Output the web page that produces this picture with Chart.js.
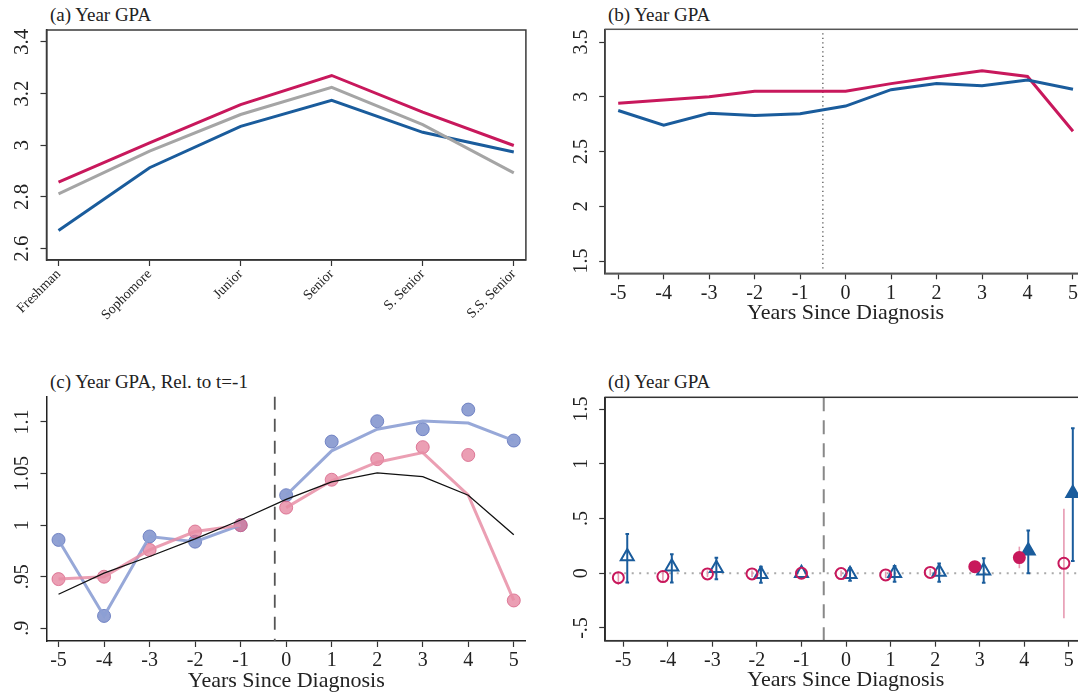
<!DOCTYPE html>
<html>
<head>
<meta charset="utf-8">
<script src="https://cdn.jsdelivr.net/npm/chart.js@4.4.1/dist/chart.umd.min.js"></script>
<style>
html, body { margin:0; padding:0; background:#fff; overflow:hidden; width:1078px; height:695px; }
canvas { position:absolute; }
.ttl { position:absolute; font-family:"Liberation Serif", serif; font-size:19px; line-height:19px; color:#222; white-space:nowrap; }
</style>
</head>
<body>
<div class="ttl" style="left:50px;top:5px">(a) Year GPA</div>
<div class="ttl" style="left:608px;top:5px">(b) Year GPA</div>
<div class="ttl" style="left:50px;top:372px">(c) Year GPA, Rel. to t=-1</div>
<div class="ttl" style="left:608px;top:372px">(d) Year GPA</div>
<canvas id="ca" width="540" height="340" style="left:0;top:0"></canvas>
<canvas id="cb" width="560" height="340" style="left:540px;top:0"></canvas>
<canvas id="cc" width="540" height="355" style="left:0;top:340px"></canvas>
<canvas id="cd" width="560" height="355" style="left:540px;top:340px"></canvas>
<script>
// ---- data ----
var classYears = ['Freshman', 'Sophomore', 'Junior', 'Senior', 'S. Senior', 'S.S. Senior'];
var aRed  = [2.857, 3.009, 3.157, 3.270, 3.128, 2.999];
var aGray = [2.812, 2.977, 3.119, 3.224, 3.080, 2.893];
var aBlue = [2.670, 2.913, 3.073, 3.174, 3.050, 2.974];
var aYTicks = [2.6, 2.8, 3, 3.2, 3.4];
var aYLabels = ['2.6', '2.8', '3', '3.2', '3.4'];

var years = [-5, -4, -3, -2, -1, 0, 1, 2, 3, 4, 5];
var xAxisTitle = 'Years Since Diagnosis';

var bRed  = [2.94, 2.97, 3.00, 3.05, 3.05, 3.05, 3.12, 3.18, 3.237, 3.185, 2.685];
var bBlue = [2.875, 2.74, 2.85, 2.83, 2.845, 2.915, 3.065, 3.12, 3.10, 3.152, 3.068];
var bYTicks = [1.5, 2, 2.5, 3, 3.5];
var bYLabels = ['1.5', '2', '2.5', '3', '3.5'];
var bEventLine = -0.5;

var cBlueDots = [0.9857, 0.912, 0.989, 0.984, 1.0, 1.029, 1.081, 1.1007, 1.093, 1.112, 1.082];
var cBlueFit  = [0.9857, 0.912, 0.989, 0.984, 1.0, 1.029, 1.072, 1.093, 1.101, 1.099, 1.082];
var cRedDots  = [0.9477, 0.950, 0.976, 0.9938, 1.0, 1.017, 1.044, 1.064, 1.0756, 1.068, 0.927];
var cRedFit   = [0.9477, 0.950, 0.976, 0.9938, 1.0, 1.017, 1.043, 1.061, 1.0703, 1.029, 0.927];
var cBlack    = [0.933, 0.9535, 0.9696, 0.9867, 1.005, 1.025, 1.042, 1.0507, 1.047, 1.029, 0.9906];
var cYTicks = [0.9, 0.95, 1, 1.05, 1.1];
var cYLabels = ['.9', '.95', '1', '1.05', '1.1'];
var cEventLine = -0.25;

var dRedX   = [-5.11, -4.11, -3.11, -2.11, -1, -0.11, 0.89, 1.89, 2.89, 3.89, 4.89];
var dRed    = [-0.04, -0.03, -0.006, -0.006, 0, -0.003, -0.015, 0.008, 0.06, 0.143, 0.091];
var dRedLo  = [-0.107, -0.08, -0.035, -0.035, null, -0.03, -0.045, -0.02, 0.005, 0.046, -0.41];
var dRedHi  = [0.016, 0.02, 0.025, 0.025, null, 0.025, 0.015, 0.04, 0.11, 0.243, 0.59];
var dRedSig = [0, 0, 0, 0, 0, 0, 0, 0, 1, 1, 0];
var dBlueX  = [-4.91, -3.91, -2.91, -1.91, -1, 0.09, 1.09, 2.09, 3.09, 4.09, 5.09];
var dBlue   = [0.152, 0.06, 0.046, -0.01, 0, -0.01, 0.0, 0.012, 0.024, 0.206, 0.73];
var dBlueLo = [-0.085, -0.085, -0.055, -0.086, null, -0.068, -0.077, -0.077, -0.086, 0.0, 0.112];
var dBlueHi = [0.359, 0.173, 0.142, 0.06, null, 0.045, 0.067, 0.09, 0.137, 0.39, 1.324];
var dBlueSig = [0, 0, 0, 0, 0, 0, 0, 0, 0, 1, 1];
var dYTicks = [-0.5, 0, 0.5, 1, 1.5];
var dYLabels = ['-.5', '0', '.5', '1', '1.5'];
var dEventLine = -0.5;
var dZeroLine = 0;

// ---- style ----
var FONT = '"Liberation Serif", "Times New Roman", serif';
var INK = '#222';
var RED = '#c8185c', BLUE = '#1a5c9c', GRAY = '#a5a5a5';
var cBlueLine = 'rgba(140,158,212,0.9)', cBlueDot = 'rgba(118,138,200,0.8)';
var cRedLine = 'rgba(232,142,166,0.85)', cRedDot = 'rgba(226,118,148,0.7)';
Chart.defaults.font.family = FONT;
Chart.defaults.color = INK;

function pts(xs, ys) {
    return xs.map(function (x, i) { return { x: x, y: ys[i] }; });
}

// rotated (reading upward) y tick labels, like the original
var rotYLabels = {
    id: 'rotYLabels',
    afterDraw: function (chart, args, o) {
        var s = chart.scales.y, ctx = chart.ctx;
        ctx.save();
        ctx.font = o.size + 'px ' + FONT;
        ctx.fillStyle = INK;
        ctx.textAlign = 'center';
        ctx.textBaseline = 'alphabetic';
        o.values.forEach(function (v, i) {
            ctx.save();
            ctx.translate(chart.chartArea.left - o.gap, s.getPixelForValue(v));
            ctx.rotate(-Math.PI / 2);
            ctx.fillText(o.labels[i], 0, 0);
            ctx.restore();
        });
        ctx.restore();
    }
};

var frame = {
    id: 'frame',
    afterDraw: function (chart, args, o) {
        if (!o.on) return;
        var a = chart.chartArea, ctx = chart.ctx;
        ctx.save();
        ctx.strokeStyle = o.color;
        ctx.lineWidth = o.width;
        ctx.strokeRect(a.left, a.top, a.right - a.left, a.bottom - a.top);
        ctx.restore();
    }
};

var refLines = {
    id: 'refLines',
    beforeDatasetsDraw: function (chart, args, o) {
        var a = chart.chartArea, ctx = chart.ctx;
        ctx.save();
        if (o.vx !== undefined) {
            var px = chart.scales.x.getPixelForValue(o.vx);
            ctx.strokeStyle = o.vcolor; ctx.lineWidth = o.vwidth; ctx.setLineDash(o.vdash);
            ctx.beginPath(); ctx.moveTo(px, a.top + o.inset); ctx.lineTo(px, a.bottom - o.inset); ctx.stroke();
        }
        if (o.hy !== undefined) {
            var py = chart.scales.y.getPixelForValue(o.hy);
            ctx.strokeStyle = o.hcolor; ctx.lineWidth = o.hwidth; ctx.setLineDash(o.hdash);
            ctx.beginPath(); ctx.moveTo(a.left + 4, py); ctx.lineTo(a.right, py); ctx.stroke();
        }
        ctx.restore();
    }
};

var ciBars = {
    id: 'ciBars',
    beforeDatasetsDraw: function (chart, args, o) {
        var xs = chart.scales.x, ys = chart.scales.y, ctx = chart.ctx;
        ctx.save();
        o.sets.forEach(function (st) {
            ctx.strokeStyle = st.color; ctx.lineWidth = st.width;
            st.x.forEach(function (x, i) {
                if (st.lo[i] === null) return;
                var px = xs.getPixelForValue(x), p1 = ys.getPixelForValue(st.lo[i]), p2 = ys.getPixelForValue(st.hi[i]);
                ctx.beginPath(); ctx.moveTo(px, p1); ctx.lineTo(px, p2);
                if (st.cap) {
                    ctx.moveTo(px - st.cap, p1); ctx.lineTo(px + st.cap, p1);
                    ctx.moveTo(px - st.cap, p2); ctx.lineTo(px + st.cap, p2);
                }
                ctx.stroke();
            });
        });
        ctx.restore();
    }
};

function yAxis(min, max, ticks, w) {
    return {
        type: 'linear', min: min, max: max, bounds: 'data',
        afterBuildTicks: function (s) { s.ticks = ticks.map(function (v) { return { value: v }; }); },
        ticks: { display: false },
        grid: { drawOnChartArea: false, tickLength: 6, tickColor: '#333', tickWidth: 1.2 },
        border: { color: INK, width: 1.5 },
        afterFit: function (s) { s.width = w; }
    };
}

function yearAxis(min, max, h, padBottom) {
    return {
        type: 'linear', min: min, max: max, bounds: 'data',
        afterBuildTicks: function (s) { s.ticks = years.map(function (v) { return { value: v }; }); },
        ticks: { font: { size: 20 }, color: INK, padding: 2, maxRotation: 0, callback: function (v) { return String(v); } },
        grid: { drawOnChartArea: false, tickLength: 6, tickColor: '#333', tickWidth: 1.2 },
        border: { color: INK, width: 1.5 },
        title: { display: true, text: xAxisTitle, font: { size: 22 }, color: INK, padding: { top: 0, bottom: padBottom } },
        afterFit: function (s) { s.height = h; }
    };
}

var base = {
    animation: false, responsive: false, events: [],
    elements: { line: { tension: 0 }, point: { radius: 0 } }
};

function opts(extra) {
    return Object.assign({}, base, extra);
}

// ---- (a) ----
new Chart(document.getElementById('ca'), {
    type: 'line',
    data: { datasets: [
        { data: pts([0, 1, 2, 3, 4, 5], aGray), borderColor: GRAY, borderWidth: 3 },
        { data: pts([0, 1, 2, 3, 4, 5], aBlue), borderColor: BLUE, borderWidth: 3 },
        { data: pts([0, 1, 2, 3, 4, 5], aRed), borderColor: RED, borderWidth: 3 }
    ] },
    options: opts({
        layout: { padding: { left: 0, top: 30, right: 14.1, bottom: 0 } },
        plugins: {
            legend: { display: false }, tooltip: { enabled: false },
            rotYLabels: { values: aYTicks, labels: aYLabels, size: 21, gap: 19 },
            frame: { on: true, color: '#3a3a3a', width: 1.5 }
        },
        scales: {
            x: {
                type: 'linear', min: -0.132, max: 5.133, bounds: 'data',
                afterBuildTicks: function (s) { s.ticks = classYears.map(function (c, i) { return { value: i }; }); },
                ticks: { font: { size: 14 }, color: INK, padding: 0, minRotation: 45, maxRotation: 45,
                    callback: function (v) { return classYears[v]; } },
                grid: { drawOnChartArea: false, tickLength: 6, tickColor: '#333', tickWidth: 1.2 },
                border: { color: INK, width: 1.5 },
                afterFit: function (s) { s.height = 80; }
            },
            y: yAxis(2.556, 3.446, aYTicks, 46.5)
        }
    }),
    plugins: [rotYLabels, frame]
});

// ---- (b) ----
new Chart(document.getElementById('cb'), {
    type: 'line',
    data: { datasets: [
        { data: pts(years, bBlue), borderColor: BLUE, borderWidth: 3 },
        { data: pts(years, bRed), borderColor: RED, borderWidth: 3 }
    ] },
    options: opts({
        layout: { padding: { left: 0, top: 29.3, right: 14, bottom: 0 } },
        plugins: {
            legend: { display: false }, tooltip: { enabled: false },
            rotYLabels: { values: bYTicks, labels: bYLabels, size: 20, gap: 18 },
            frame: { on: true, color: '#555', width: 1.5 },
            refLines: { vx: bEventLine, vcolor: '#555', vwidth: 1.3, vdash: [1.3, 3.2], inset: 4 }
        },
        scales: {
            x: yearAxis(-5.286, 5.286, 66.7, 13.5),
            y: yAxis(1.388, 3.616, bYTicks, 65.2)
        }
    }),
    plugins: [rotYLabels, frame, refLines]
});

// ---- (c) ----
function breakAtEvent(ctx) {
    return ctx.p0.parsed.x < cEventLine && ctx.p1.parsed.x > cEventLine ? 'rgba(0,0,0,0)' : undefined;
}
new Chart(document.getElementById('cc'), {
    type: 'line',
    data: { datasets: [
        { data: pts(years, cBlack), borderColor: '#111', borderWidth: 1.3, order: 1 },
        { data: pts(years, cRedFit), borderColor: cRedLine, borderWidth: 3, segment: { borderColor: breakAtEvent }, order: 2 },
        { data: pts(years, cBlueFit), borderColor: cBlueLine, borderWidth: 3, segment: { borderColor: breakAtEvent }, order: 3 },
        { data: pts(years, cRedDots), showLine: false, pointRadius: 6.5, pointBackgroundColor: cRedDot, pointBorderColor: 'rgba(215,100,135,0.8)', pointBorderWidth: 1, order: 4 },
        { data: pts(years, cBlueDots), showLine: false, pointRadius: 6.5, pointBackgroundColor: cBlueDot, pointBorderColor: 'rgba(100,120,190,0.85)', pointBorderWidth: 1, order: 5 }
    ] },
    options: opts({
        layout: { padding: { left: 0, top: 56.7, right: 14.1, bottom: 0 } },
        plugins: {
            legend: { display: false }, tooltip: { enabled: false },
            rotYLabels: { values: cYTicks, labels: cYLabels, size: 20, gap: 19 },
            refLines: { vx: cEventLine, vcolor: '#555', vwidth: 1.8, vdash: [13, 9], inset: 0 }
        },
        scales: {
            x: yearAxis(-5.264, 5.266, 54, 0.8),
            y: yAxis(0.8877, 1.1245, cYTicks, 46.5)
        }
    }),
    plugins: [rotYLabels, refLines]
});

// ---- (d) ----
new Chart(document.getElementById('cd'), {
    type: 'line',
    data: { datasets: [
        { data: pts(dRedX, dRed), showLine: false, pointStyle: 'circle', pointRadius: 5.5, pointBorderWidth: 2,
          pointBorderColor: RED, pointBackgroundColor: dRedSig.map(function (s) { return s ? RED : 'rgba(0,0,0,0)'; }) },
        { data: pts(dBlueX, dBlue), showLine: false, pointStyle: 'triangle', pointRadius: 7.5, pointBorderWidth: 2,
          pointBorderColor: BLUE, pointBackgroundColor: dBlueSig.map(function (s) { return s ? BLUE : 'rgba(0,0,0,0)'; }) }
    ] },
    options: opts({
        layout: { padding: { left: 0, top: 57.3, right: 13.6, bottom: 0 } },
        plugins: {
            legend: { display: false }, tooltip: { enabled: false },
            rotYLabels: { values: dYTicks, labels: dYLabels, size: 20, gap: 18 },
            frame: { on: true, color: '#333', width: 1.5 },
            refLines: { vx: dEventLine, vcolor: '#888', vwidth: 2, vdash: [14, 9], inset: 0,
                        hy: dZeroLine, hcolor: '#aaa', hwidth: 2, hdash: [2, 5.5] },
            ciBars: { sets: [
                { x: dRedX, lo: dRedLo, hi: dRedHi, color: '#e79ab2', width: 1.6, cap: 0 },
                { x: dBlueX, lo: dBlueLo, hi: dBlueHi, color: BLUE, width: 2, cap: 1.8 }
            ] }
        },
        scales: {
            x: yearAxis(-5.405, 5.395, 54.3, 1.1),
            y: yAxis(-0.616, 1.607, dYTicks, 65.2)
        }
    }),
    plugins: [rotYLabels, frame, refLines, ciBars]
});
</script>
</body>
</html>
